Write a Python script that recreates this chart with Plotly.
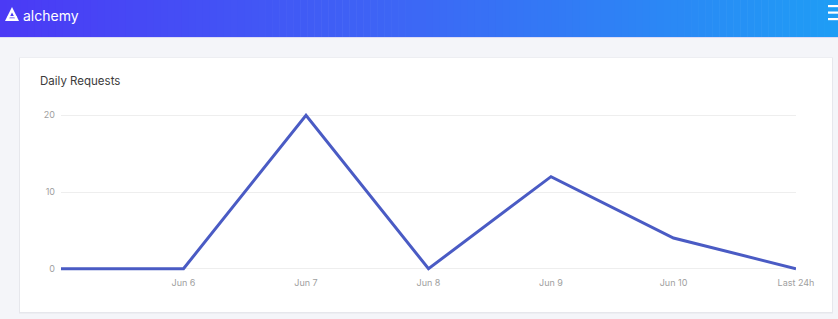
import plotly.graph_objects as go

# ---- data ----
x_positions = [0, 1, 2, 3, 4, 5, 6]
tick_labels = ["", "Jun 6", "Jun 7", "Jun 8", "Jun 9", "Jun 10", "Last 24h"]
daily_requests = [0, 0, 20, 0, 12, 4, 0]
y_ticks = [0, 10, 20]

W, H = 838, 319
L, R, T, B = 61, 42, 113, 48
PW, PH = W - L - R, H - T - B


def px(x):
    return (x - L) / PW


def py(y):
    return 1 - (y - T) / PH


shapes = []

# header gradient (stripes)
c0 = (0x4B, 0x3A, 0xF5)
c1 = (0x3C, 0x68, 0xF5)
c2 = (0x1F, 0x9D, 0xF5)
n = 120
for i in range(n):
    t = i / (n - 1)
    if t < 0.5:
        a, b, u = c0, c1, t / 0.5
    else:
        a, b, u = c1, c2, (t - 0.5) / 0.5
    col = "rgb(%d,%d,%d)" % tuple(round(a[k] + (b[k] - a[k]) * u) for k in range(3))
    x0 = i * W / n
    x1 = (i + 1) * W / n + 0.6
    shapes.append(dict(type="rect", xref="paper", yref="paper",
                       x0=px(x0), x1=px(x1), y0=py(37), y1=py(0),
                       fillcolor=col, line=dict(width=0), layer="below"))
# header bottom highlight
shapes.append(dict(type="rect", xref="paper", yref="paper",
                   x0=px(0), x1=px(W), y0=py(38), y1=py(37),
                   fillcolor="#dcdcf6", line=dict(width=0), layer="below"))

# hamburger
for yy in (5, 11.5, 18):
    shapes.append(dict(type="rect", xref="paper", yref="paper",
                       x0=px(828), x1=px(840), y0=py(yy + 2.2), y1=py(yy),
                       fillcolor="white", line=dict(width=0), layer="below"))

# logo icon (triangle with cut)
tri = "M {} {} L {} {} L {} {} Z".format(px(12), py(7), px(5), py(21), px(19), py(21))
shapes.append(dict(type="path", xref="paper", yref="paper", path=tri,
                   fillcolor="white", line=dict(width=0), layer="below"))
cut = "M {} {} L {} {} L {} {} Z".format(px(12), py(12.5), px(9.2), py(18.2), px(15), py(18.2))
shapes.append(dict(type="path", xref="paper", yref="paper", path=cut,
                   fillcolor="#4b3af5", line=dict(width=0), layer="below"))
bar = "M {} {} L {} {} L {} {} L {} {} Z".format(px(8), py(16), px(16.5), py(16), px(17.3), py(17.5), px(7.2), py(17.5))
shapes.append(dict(type="path", xref="paper", yref="paper", path=bar,
                   fillcolor="white", line=dict(width=0), layer="below"))

# card shadow + card
shapes.append(dict(type="rect", xref="paper", yref="paper",
                   x0=px(19), x1=px(833), y0=py(313.5), y1=py(57.5),
                   fillcolor="#e6e7ec", line=dict(width=0), layer="below"))
shapes.append(dict(type="rect", xref="paper", yref="paper",
                   x0=px(20), x1=px(832), y0=py(312), y1=py(58),
                   fillcolor="white", line=dict(width=0), layer="below"))

fig = go.Figure()
fig.add_trace(go.Scatter(
    x=x_positions, y=daily_requests, mode="lines",
    line=dict(color="#4a5bc4", width=3),
    hoverinfo="skip", showlegend=False,
))

annotations = [
    dict(text="Daily Requests", xref="paper", yref="paper", x=px(38), y=py(81),
         xanchor="left", yanchor="middle", showarrow=False,
         font=dict(size=11.5, color="#3b3b3b", family="Inter, Roboto, sans-serif")),
    dict(text="alchemy", xref="paper", yref="paper", x=px(21), y=py(15),
         xanchor="left", yanchor="middle", showarrow=False,
         font=dict(size=14, color="white", family="Inter, Roboto, sans-serif")),
]

fig.update_layout(
    width=W, height=H, autosize=False,
    margin=dict(l=L, r=R, t=T, b=B, pad=0),
    paper_bgcolor="#f4f5f9", plot_bgcolor="rgba(0,0,0,0)",
    shapes=shapes, annotations=annotations,
    font=dict(family="Inter, Roboto, sans-serif"),
    xaxis=dict(range=[0, 6], tickmode="array", tickvals=x_positions,
               ticktext=tick_labels, showgrid=False, zeroline=False,
               showline=False, ticks="", tickfont=dict(size=9, color="#a0a0a0"),
               ticklabelstandoff=5, fixedrange=True),
    yaxis=dict(range=[-0.3, 20.3], tickmode="array", tickvals=y_ticks,
               showgrid=True, gridcolor="#eeeeee", gridwidth=1,
               zeroline=False, showline=False, ticks="",
               tickfont=dict(size=9, color="#a0a0a0"), ticklabelstandoff=5,
               fixedrange=True),
)

fig.write_html(
    "out.html",
    config={"displayModeBar": False},
    post_script="document.body.style.margin='0';document.body.style.overflow='hidden';",
)
